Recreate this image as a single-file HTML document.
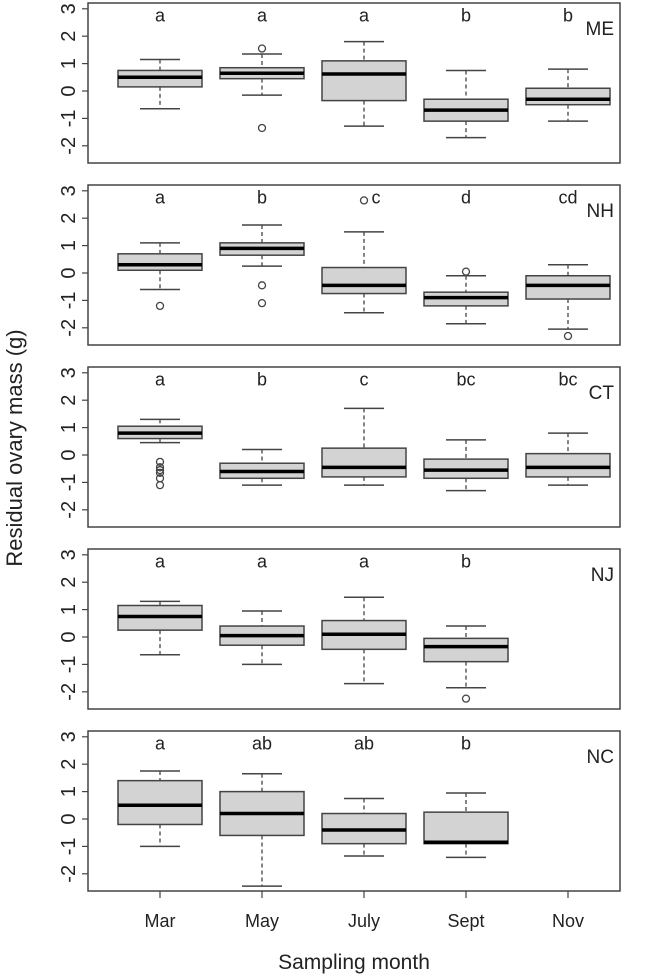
<!DOCTYPE html>
<html><head><meta charset="utf-8"><style>
body{margin:0;background:#fff;}
svg{display:block;font-family:"Liberation Sans",sans-serif;}
</style></head><body>
<svg id="chart" width="645" height="977"></svg>
<script>
const months = ["Mar","May","July","Sept","Nov"];
const regions = ["ME","NH","CT","NJ","NC"];
// each box: [lowWhisker, Q1, median, Q3, highWhisker]
const boxesME = [[-0.65,0.15,0.5,0.75,1.15],[-0.15,0.45,0.65,0.85,1.35],[-1.28,-0.35,0.62,1.1,1.8],[-1.7,-1.1,-0.7,-0.3,0.75],[-1.1,-0.5,-0.3,0.1,0.8]];
const boxesNH = [[-0.6,0.1,0.3,0.7,1.1],[0.25,0.65,0.9,1.1,1.75],[-1.45,-0.75,-0.45,0.2,1.5],[-1.85,-1.2,-0.9,-0.7,-0.1],[-2.05,-0.95,-0.45,-0.1,0.3]];
const boxesCT = [[0.45,0.6,0.8,1.05,1.3],[-1.1,-0.85,-0.6,-0.3,0.2],[-1.1,-0.8,-0.45,0.25,1.7],[-1.3,-0.85,-0.55,-0.15,0.55],[-1.1,-0.8,-0.45,0.05,0.8]];
const boxesNJ = [[-0.65,0.25,0.75,1.15,1.3],[-1.0,-0.3,0.05,0.4,0.95],[-1.7,-0.45,0.1,0.6,1.45],[-1.85,-0.9,-0.35,-0.05,0.4]];
const boxesNC = [[-1.0,-0.2,0.5,1.4,1.75],[-2.45,-0.6,0.2,1.0,1.65],[-1.35,-0.9,-0.4,0.2,0.75],[-1.4,-0.9,-0.85,0.25,0.95]];
const outliersME = [[],[1.55,-1.35],[],[],[]];
const outliersNH = [[-1.2],[-0.45,-1.1],[2.65],[0.05],[-2.3]];
const outliersCT = [[-0.25,-0.45,-0.55,-0.65,-0.85,-1.1],[],[],[],[]];
const outliersNJ = [[],[],[],[-2.25]];
const outliersNC = [[],[],[],[]];
const lettersME = ["a","a","a","b","b"];
const lettersNH = ["a","b","c","d","cd"];
const lettersCT = ["a","b","c","bc","bc"];
const lettersNJ = ["a","a","a","b"];
const lettersNC = ["a","ab","ab","b"];
const yTicks = [-2,-1,0,1,2,3];

const allBoxes=[boxesME,boxesNH,boxesCT,boxesNJ,boxesNC];
const allOut=[outliersME,outliersNH,outliersCT,outliersNJ,outliersNC];
const allLet=[lettersME,lettersNH,lettersCT,lettersNJ,lettersNC];
const NS="http://www.w3.org/2000/svg";
const svg=document.getElementById('chart');
const L=88,R=620,PH=160,tops=[3,185,367,549,731];
const unit=27.4;
const xPos=i=>160+i*102;
function mk(tag,attrs,parent){const e=document.createElementNS(NS,tag);for(const k in attrs)e.setAttribute(k,attrs[k]);(parent||svg).appendChild(e);return e;}
regions.forEach((reg,p)=>{
  const top=tops[p];
  const y=v=>top+88-v*unit;
  const g=mk('g',{});
  
  
  const fr=mk('rect',{x:L,y:top,width:R-L,height:PH,fill:'none',stroke:'#444','stroke-width':1.5},g);
  
  
  yTicks.forEach(t=>{
    mk('line',{x1:L-6,x2:L,y1:y(t),y2:y(t),stroke:'#444','stroke-width':1.2},g);
    const tx=mk('text',{x:0,y:0,transform:`translate(${L-13},${y(t)}) rotate(-90)`,'text-anchor':'middle','font-size':20,fill:'#222'},g);
    tx.textContent=t;
    
    
  });
  const lb=mk('text',{x:614,y:y(2.3)+7,'text-anchor':'end','font-size':19,fill:'#222'},g);
  lb.textContent=reg;
  
  
  allBoxes[p].forEach((b,i)=>{
    const cx=xPos(i);
    const bg=mk('g',{},g);
    
    
    mk('line',{x1:cx,x2:cx,y1:y(b[4]),y2:y(b[3]),stroke:'#444','stroke-width':1.3,'stroke-dasharray':'4,3'},bg);
    mk('line',{x1:cx,x2:cx,y1:y(b[1]),y2:y(b[0]),stroke:'#444','stroke-width':1.3,'stroke-dasharray':'4,3'},bg);
    mk('line',{x1:cx-20,x2:cx+20,y1:y(b[4]),y2:y(b[4]),stroke:'#444','stroke-width':1.5},bg);
    mk('line',{x1:cx-20,x2:cx+20,y1:y(b[0]),y2:y(b[0]),stroke:'#444','stroke-width':1.5},bg);
    mk('rect',{x:cx-42,y:y(b[3]),width:84,height:y(b[1])-y(b[3]),fill:'#d3d3d3',stroke:'#444','stroke-width':1.5},bg);
    mk('line',{x1:cx-42,x2:cx+42,y1:y(b[2]),y2:y(b[2]),stroke:'#000','stroke-width':3.5},bg);
    allOut[p][i].forEach(o=>{
      const c=mk('circle',{cx:cx,cy:y(o),r:3.5,fill:'none',stroke:'#444','stroke-width':1.3},bg);
      
      
    });
    const hasTopOut=allOut[p][i].some(o=>o>2.4);
    const lt=mk('text',{x:cx+(hasTopOut?12:0),y:y(2.75)+6,'text-anchor':'middle','font-size':18,fill:'#222'},g);
    lt.textContent=allLet[p][i];
    
    
  });
  if(p===4){
    months.forEach((m,i)=>{
      mk('line',{x1:xPos(i),x2:xPos(i),y1:top+PH,y2:top+PH+7,stroke:'#444','stroke-width':1.2},g);
      const t=mk('text',{x:xPos(i),y:927,'text-anchor':'middle','font-size':18,fill:'#222'},g);
      t.textContent=m;
      
      
    });
  }
});
const xt=mk('text',{x:354,y:969,'text-anchor':'middle','font-size':21,fill:'#222'});
xt.textContent='Sampling month';


const yt=mk('text',{x:0,y:0,transform:'translate(22,448) rotate(-90)','text-anchor':'middle','font-size':22,fill:'#222'});
yt.textContent='Residual ovary mass (g)';


</script>
</body></html>
